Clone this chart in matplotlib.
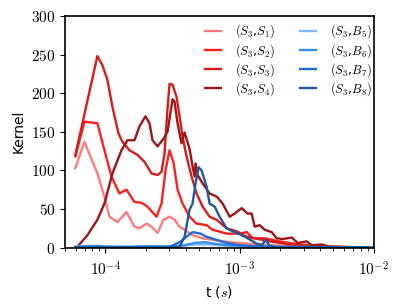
import numpy as np
import matplotlib
matplotlib.use('Agg')
import matplotlib.pyplot as plt
from matplotlib.ticker import FuncFormatter, LogLocator

plt.rcParams['mathtext.fontset'] = 'cm'
plt.rcParams['font.family'] = ['DejaVu Sans']

# kernel curves: (t in s, kernel value)
t_s1 = [5.97e-5, 6.97e-5, 8.71e-5, 9.83e-5, 1.071e-4, 1.229e-4, 1.435e-4, 1.646e-4, 1.794e-4,
        2.023e-4, 2.205e-4, 2.444e-4, 2.709e-4, 3.003e-4, 3.272e-4, 3.566e-4, 3.886e-4, 4.46e-4,
        5.30e-4, 6.29e-4, 8.42e-4, 1.188e-3, 1.675e-3, 2.805e-3, 4.69e-3, 9.66e-3]
k_s1 = [103, 137, 96, 66, 40, 33, 46, 27, 25, 31, 27, 19, 36, 40, 36, 27, 23, 16,
        12, 10, 7, 5, 3, 1, 0, 0]

t_s2 = [5.97e-5, 6.97e-5, 8.71e-5, 9.83e-5, 1.109e-4, 1.272e-4, 1.435e-4, 1.646e-4, 1.857e-4,
        2.058e-4, 2.403e-4, 2.618e-4, 2.805e-4, 3.003e-4, 3.217e-4, 3.446e-4, 3.754e-4, 4.234e-4,
        4.776e-4, 5.67e-4, 6.29e-4, 7.99e-4, 1.0e-3, 1.128e-3, 1.250e-3, 1.537e-3, 1.988e-3,
        2.805e-3, 3.954e-3, 5.58e-3, 9.66e-3]
k_s2 = [118, 163, 161, 126, 92, 70, 75, 59, 58, 53, 40, 57, 100, 126, 110, 75, 57, 40,
        31, 29, 23, 18, 18, 20, 12, 12, 8, 4, 2, 1, 0]

t_s3 = [5.97e-5, 8.71e-5, 9.50e-5, 1.035e-4, 1.128e-4, 1.250e-4, 1.339e-4, 1.510e-4, 1.733e-4,
        1.954e-4, 2.205e-4, 2.444e-4, 2.618e-4, 2.756e-4, 2.902e-4, 3.003e-4, 3.162e-4, 3.388e-4,
        3.566e-4, 3.754e-4, 4.022e-4, 4.383e-4, 4.776e-4, 5.30e-4, 5.97e-4, 6.74e-4, 7.99e-4,
        9.50e-4, 1.128e-3, 1.294e-3, 1.675e-3, 2.361e-3, 3.954e-3, 9.66e-3]
k_s3 = [120, 248, 236, 217, 182, 148, 137, 126, 120, 111, 96, 94, 98, 122, 180, 212, 211, 195,
        170, 144, 118, 92, 70, 53, 40, 36, 25, 21, 14, 12, 8, 4, 1, 0]

t_s4 = [6.18e-5, 7.34e-5, 8.71e-5, 9.83e-5, 1.128e-4, 1.316e-4, 1.460e-4, 1.646e-4, 1.794e-4,
        1.988e-4, 2.130e-4, 2.242e-4, 2.444e-4, 2.709e-4, 2.902e-4, 3.162e-4, 3.272e-4, 3.446e-4,
        3.690e-4, 3.886e-4, 4.234e-4, 4.46e-4, 4.62e-4, 4.69e-4, 4.86e-4, 5.30e-4, 5.97e-4,
        6.74e-4, 7.47e-4, 8.42e-4, 9.18e-4, 1.035e-3, 1.147e-3, 1.229e-3, 1.294e-3, 1.410e-3,
        1.537e-3, 1.733e-3, 1.888e-3, 2.094e-3, 2.444e-3, 2.709e-3, 3.162e-3, 3.446e-3, 4.09e-3,
        4.69e-3, 9.66e-3]
k_s4 = [1, 16, 36, 57, 96, 126, 139, 139, 157, 170, 161, 139, 131, 141, 150, 192, 189, 161,
        135, 149, 128, 105, 92, 109, 94, 83, 70, 66, 57, 40, 44, 51, 44, 44, 27, 29,
        23, 20, 12, 11, 13, 6, 8, 3, 4, 1, 0]

t_b5 = [5.97e-5, 8.28e-5, 1.071e-4, 2.130e-4, 3.566e-4, 4.62e-4, 5.97e-4, 8.42e-4, 1.410e-3,
        2.805e-3, 9.66e-3]
k_b5 = [1, 2, 1, 1, 2, 4, 4, 2, 1, 0, 0]

t_b6 = [5.97e-5, 7.60e-5, 9.02e-5, 1.0e-4, 1.510e-4, 2.130e-4, 3.003e-4, 3.886e-4, 4.62e-4,
        5.48e-4, 6.51e-4, 8.42e-4, 1.188e-3, 1.988e-3, 9.66e-3]
k_b6 = [1, 2, 2, 1, 1, 2, 1, 3, 6, 7, 5, 3, 2, 1, 0]

t_b7 = [5.97e-5, 9.02e-5, 1.794e-4, 3.003e-4, 3.566e-4, 4.022e-4, 4.46e-4, 5.12e-4, 5.67e-4,
        6.74e-4, 7.99e-4, 1.0e-3, 1.410e-3, 9.66e-3]
k_b7 = [0, 1, 0, 1, 7, 14, 20, 18, 14, 10, 6, 3, 1, 0]

t_b8 = [5.97e-5, 3.003e-4, 3.566e-4, 3.886e-4, 4.234e-4, 4.46e-4, 4.69e-4, 4.94e-4, 5.20e-4,
        5.67e-4, 5.97e-4, 6.51e-4, 7.09e-4, 7.99e-4, 8.87e-4, 1.035e-3, 1.147e-3, 1.339e-3,
        1.460e-3, 1.563e-3, 1.675e-3, 1.988e-3, 9.66e-3]
k_b8 = [0, 0, 1, 14, 49, 57, 83, 104, 100, 79, 57, 53, 40, 25, 21, 16, 12, 5,
        3, 10, 2, 0, 0]

labels = [r'$(S_3$,$S_1)$', r'$(S_3$,$S_2)$', r'$(S_3$,$S_3)$', r'$(S_3$,$S_4)$',
          r'$(S_3$,$B_5)$', r'$(S_3$,$B_6)$', r'$(S_3$,$B_7)$', r'$(S_3$,$B_8)$']
colors = ['#ff7a7a', '#ff1f1f', '#d81b1b', '#a01616',
          '#7fbcf7', '#3a90e6', '#1c70d4', '#1f5a9c']

series = [(t_s1, k_s1), (t_s2, k_s2), (t_s3, k_s3), (t_s4, k_s4),
          (t_b5, k_b5), (t_b6, k_b6), (t_b7, k_b7), (t_b8, k_b8)]

fig = plt.figure(figsize=(3.99, 3.06), dpi=100)
ax = fig.add_axes([0.163, 0.191, 0.774, 0.757])

for (t, k), c, lab in zip(series, colors, labels):
    ax.plot(t, k, color=c, lw=1.7, label=lab)

ax.set_xscale('log')
ax.set_xlim(5e-5, 1e-2)
ax.set_ylim(0, 300)
ax.set_yticks([0, 50, 100, 150, 200, 250, 300])
ax.yaxis.set_major_formatter(FuncFormatter(lambda v, p: '$%d$' % v))
ax.xaxis.set_major_locator(LogLocator(base=10, numticks=10))
ax.xaxis.set_major_formatter(FuncFormatter(lambda v, p: '$10^{%d}$' % round(np.log10(v))))
ax.tick_params(axis='both', which='major', direction='out', length=3.5, width=0.8, labelsize=11)
ax.tick_params(axis='both', which='minor', direction='out', length=2, width=0.6)
ax.tick_params(axis='x', pad=6)
for s in ax.spines.values():
    s.set_linewidth(1.2)

ax.set_xlabel(r't ($s$)', fontsize=10)
ax.set_ylabel('Kernel', fontsize=10)

ax.legend(ncol=2, frameon=False, loc='upper right', fontsize=9, handlelength=1.3,
          columnspacing=2.0, handletextpad=1.1, labelspacing=0.12,
          bbox_to_anchor=(1.03, 1.02))

fig.savefig('out.png', dpi=100)
